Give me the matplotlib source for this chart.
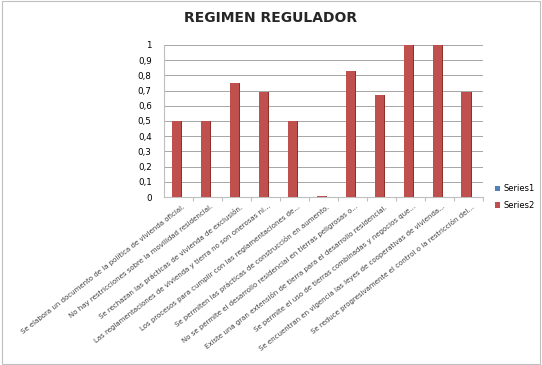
import matplotlib.pyplot as plt
import numpy as np

categories = [
    "Se elabora un documento de la política de vivienda oficial.",
    "No hay restricciones sobre la movilidad residencial.",
    "Se rechazan las prácticas de vivienda de exclusión.",
    "Las reglamentaciones de vivienda y tierra no son onerosas ni...",
    "Los procesos para cumplir con las reglamentaciones de...",
    "Se permiten las prácticas de construcción en aumento.",
    "No se permite el desarrollo residencial en tierras peligrosas o...",
    "Existe una gran extensión de tierra para el desarrollo residencial.",
    "Se permite el uso de tierras combinadas y negocios que...",
    "Se encuentran en vigencia las leyes de cooperativas de vivienda...",
    "Se reduce progresivamente el control o la restricción del...",
]
series1 = [0] * 11
series2 = [0.5, 0.5, 0.75, 0.69, 0.5, 0.005, 0.83, 0.67, 1.0, 1.0, 0.69]
yticks = [0, 0.1, 0.2, 0.3, 0.4, 0.5, 0.6, 0.7, 0.8, 0.9, 1]

fig = plt.figure(figsize=(5.42, 3.65), dpi=100)
ax = fig.add_axes([0.303, 0.46, 0.588, 0.417])

x = np.arange(len(categories))
ax.bar(x - 0.17, series1, width=0.34, color="#4F81BD", label="Series1", zorder=3)
# darker side face for a flat 3-D look
ax.bar(x - 0.08 + 0.04, series2, width=0.32, color="#8E2F2C", zorder=2)
ax.bar(x - 0.08, series2, width=0.32, color="#C0504D", label="Series2", zorder=3)

ax.set_xlim(-0.5, len(categories) - 0.5)
ax.set_ylim(0, 1)
ax.set_yticks(yticks)
ax.set_yticklabels([f"{v:g}".replace(".", ",") for v in yticks], fontsize=6.3)
ax.yaxis.grid(True, color="#A6A6A6", linewidth=0.7)
ax.set_axisbelow(True)
for s in ["top", "right"]:
    ax.spines[s].set_visible(False)
ax.spines["left"].set_color("#BFBFBF")
ax.spines["bottom"].set_color("#BFBFBF")
ax.tick_params(axis="y", length=0, pad=9)
ax.tick_params(axis="x", length=3, color="#BFBFBF")
ax.set_xticks(x + 0.5, minor=False)
ax.set_xticklabels([])
for xi, lab in zip(x, categories):
    ax.text(xi + 0.1, -0.04, lab, rotation=38, ha="right", va="top",
            rotation_mode="anchor", fontsize=5, color="#404040")

fig.text(0.5, 0.95, "REGIMEN REGULADOR", ha="center", va="center",
         fontsize=10, fontweight="bold", color="#262626")

leg = ax.legend(loc="center left", bbox_to_anchor=(1.015, 0.0), frameon=False,
                fontsize=6, handlelength=0.6, handleheight=0.6, handletextpad=0.4,
                labelspacing=0.9)

fig.patches.append(plt.Rectangle((0.003, 0.003), 0.994, 0.994, transform=fig.transFigure,
                                 fill=False, edgecolor="#BFBFBF", linewidth=0.8))

fig.savefig("out.png", dpi=100)
